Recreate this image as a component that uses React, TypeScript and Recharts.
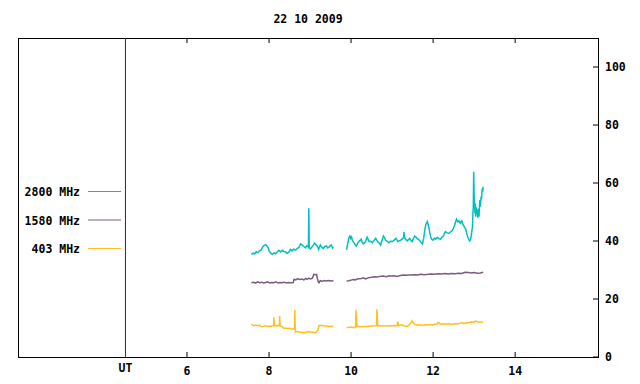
import React from "react";
import { LineChart, Line, XAxis, YAxis, ReferenceLine } from "recharts";

const FONT = "'DejaVu Sans Mono', 'Liberation Mono', monospace";

const title = "22 10 2009";
const xTicks = [4.5, 6, 8, 10, 12, 14];
const xTickLabels: Record<string, string> = { "4.5": "UT", "6": "6", "8": "8", "10": "10", "12": "12", "14": "14" };
const yTicks = [0, 20, 40, 60, 80, 100];
const seriesNames = ["2800 MHz", "1580 MHz", "403 MHz"];
const seriesColors = ["#00c0c0", "#7c5c7c", "#ffc020"];
const gapTime = 9.73;

const cyan1: [number, number][] = [
  [7.57, 35.4], [7.61, 35.8], [7.65, 35.6], [7.69, 36.3], [7.73, 36.0], [7.77, 36.7], [7.81, 36.9], [7.84, 37.8],
  [7.88, 38.5], [7.91, 38.7], [7.94, 38.5], [7.97, 37.9], [8.0, 36.7], [8.04, 35.8], [8.08, 35.4], [8.12, 35.9],
  [8.16, 35.6], [8.2, 36.3], [8.24, 36.8], [8.28, 36.2], [8.32, 36.8], [8.36, 36.4], [8.4, 36.3], [8.44, 35.7],
  [8.48, 36.1], [8.52, 37.1], [8.56, 36.6], [8.6, 37.2], [8.65, 36.9], [8.69, 37.5], [8.73, 37.8], [8.77, 39.0],
  [8.81, 38.6], [8.85, 38.1], [8.89, 37.6], [8.92, 38.3], [8.96, 37.9], [8.97, 51.3], [8.98, 37.5], [9.01, 37.3],
  [9.05, 38.0], [9.08, 38.6], [9.11, 39.3], [9.14, 38.8], [9.18, 38.2], [9.21, 37.1], [9.25, 38.6], [9.28, 38.0],
  [9.32, 37.4], [9.36, 38.1], [9.4, 38.3], [9.43, 37.6], [9.46, 37.9], [9.49, 38.4], [9.52, 38.6], [9.55, 37.6],
  [9.57, 37.9],
];
const cyan2: [number, number][] = [
  [9.89, 36.9], [9.91, 38.6], [9.93, 39.8], [9.95, 41.2], [9.97, 41.7], [9.99, 40.9], [10.01, 41.4], [10.03, 40.3],
  [10.06, 39.6], [10.09, 39.0], [10.11, 38.6], [10.13, 38.3], [10.16, 39.2], [10.19, 39.8], [10.22, 40.2], [10.25, 40.6],
  [10.27, 39.6], [10.3, 39.0], [10.33, 39.4], [10.35, 39.8], [10.37, 40.6], [10.39, 41.3], [10.42, 40.4], [10.44, 39.8],
  [10.48, 39.9], [10.52, 39.4], [10.56, 40.2], [10.6, 40.9], [10.63, 40.2], [10.65, 39.8], [10.69, 39.2], [10.72, 38.6],
  [10.75, 40.0], [10.79, 41.7], [10.82, 41.0], [10.84, 40.3], [10.88, 39.9], [10.92, 39.4], [10.96, 39.9], [11.01, 39.8],
  [11.05, 40.3], [11.09, 40.9], [11.12, 40.4], [11.14, 39.8], [11.18, 40.1], [11.21, 40.3], [11.25, 40.8], [11.28, 41.2],
  [11.29, 43.2], [11.3, 41.3], [11.33, 40.6], [11.37, 40.0], [11.4, 40.5], [11.43, 40.9], [11.46, 40.2], [11.49, 39.8],
  [11.52, 40.8], [11.55, 41.7], [11.58, 41.4], [11.61, 40.9], [11.65, 40.5], [11.68, 40.0], [11.71, 39.5], [11.74, 39.0],
  [11.77, 40.9], [11.8, 44.0], [11.82, 45.5], [11.84, 46.2], [11.86, 46.7], [11.88, 45.6], [11.9, 44.4], [11.92, 42.8],
  [11.95, 40.9], [11.98, 40.5], [12.0, 40.3], [12.03, 41.0], [12.06, 40.6], [12.1, 41.3], [12.14, 40.8], [12.18, 40.6],
  [12.21, 41.2], [12.25, 41.7], [12.27, 42.4], [12.3, 43.2], [12.34, 42.8], [12.38, 42.6], [12.42, 43.1], [12.47, 43.6],
  [12.49, 44.2], [12.51, 44.9], [12.54, 46.2], [12.57, 47.5], [12.6, 46.6], [12.63, 47.0], [12.65, 46.3], [12.67, 46.1],
  [12.69, 46.9], [12.71, 46.7], [12.73, 45.6], [12.75, 45.2], [12.77, 44.6], [12.79, 44.4], [12.81, 43.2], [12.83, 42.1],
  [12.85, 41.2], [12.87, 40.6], [12.89, 40.0], [12.91, 40.3], [12.93, 41.8], [12.95, 43.9], [12.96, 44.9], [12.97, 49.5],
  [12.98, 51.8], [12.99, 63.9], [13.0, 55.8], [13.01, 54.1], [13.02, 49.6], [13.03, 52.8], [13.04, 48.4], [13.05, 51.6],
  [13.06, 49.2], [13.08, 50.7], [13.09, 48.0], [13.1, 51.2], [13.12, 48.4], [13.13, 52.0], [13.14, 54.1], [13.15, 51.8],
  [13.17, 55.3], [13.18, 54.4], [13.19, 56.9], [13.2, 58.2], [13.21, 57.0], [13.22, 58.7],
];

const purple1: [number, number][] = [
  [7.57, 25.6], [7.62, 25.8], [7.67, 25.5], [7.72, 25.9], [7.77, 25.6], [7.82, 25.8], [7.87, 25.5], [7.92, 25.7],
  [7.97, 25.9], [8.02, 25.5], [8.07, 25.7], [8.12, 25.6], [8.17, 25.9], [8.22, 25.5], [8.27, 25.7], [8.32, 25.6],
  [8.37, 25.8], [8.42, 25.5], [8.47, 25.7], [8.52, 25.6], [8.57, 25.6], [8.59, 25.7], [8.61, 26.8], [8.65, 26.6],
  [8.7, 27.0], [8.75, 26.7], [8.8, 26.9], [8.85, 26.6], [8.9, 27.1], [8.93, 26.8], [8.97, 27.2], [9.01, 26.9],
  [9.05, 27.1], [9.07, 27.6], [9.09, 28.5], [9.13, 28.4], [9.16, 28.5], [9.18, 27.0], [9.2, 25.9], [9.22, 25.6],
  [9.25, 26.3], [9.3, 26.1], [9.35, 26.4], [9.4, 26.2], [9.45, 26.4], [9.5, 26.2], [9.57, 26.3],
];
const purple2: [number, number][] = [
  [9.89, 26.2], [9.95, 26.3], [10.0, 26.5], [10.05, 26.7], [10.1, 26.6], [10.15, 26.9], [10.2, 27.0], [10.25, 27.1],
  [10.3, 27.3], [10.35, 26.9], [10.4, 27.2], [10.45, 27.4], [10.5, 27.5], [10.57, 27.7], [10.63, 27.6], [10.7, 27.8],
  [10.78, 27.9], [10.86, 27.7], [10.93, 28.0], [10.98, 27.9], [11.05, 28.0], [11.12, 27.8], [11.2, 28.1], [11.28, 28.3],
  [11.35, 28.2], [11.39, 28.3], [11.46, 28.3], [11.55, 28.4], [11.62, 28.3], [11.7, 28.5], [11.78, 28.4], [11.88, 28.5],
  [11.95, 28.6], [12.03, 28.5], [12.12, 28.7], [12.2, 28.6], [12.28, 28.8], [12.37, 28.6], [12.45, 28.8], [12.53, 28.7],
  [12.62, 28.9], [12.7, 28.8], [12.78, 29.2], [12.86, 29.1], [12.93, 29.0], [13.0, 29.1], [13.08, 28.9], [13.15, 29.0],
  [13.22, 29.2],
];

const yellow1: [number, number][] = [
  [7.57, 11.3], [7.6, 11.0], [7.63, 10.8], [7.68, 11.0], [7.73, 10.8], [7.77, 11.0], [7.8, 10.6], [7.82, 10.5],
  [7.87, 10.6], [7.92, 10.8], [7.97, 10.5], [8.02, 10.7], [8.07, 10.6], [8.11, 10.8], [8.12, 13.7], [8.13, 10.9],
  [8.16, 10.8], [8.21, 10.9], [8.25, 10.8], [8.26, 14.1], [8.27, 10.7], [8.32, 10.5], [8.36, 9.9], [8.42, 9.9],
  [8.47, 9.8], [8.52, 9.9], [8.57, 9.6], [8.62, 9.8], [8.63, 16.2], [8.64, 8.7], [8.68, 8.8], [8.73, 8.6],
  [8.79, 8.5], [8.85, 8.4], [8.9, 8.5], [8.95, 8.7], [9.01, 8.6], [9.07, 8.5], [9.13, 8.4], [9.16, 8.8],
  [9.19, 9.3], [9.21, 10.2], [9.22, 10.9], [9.26, 10.9], [9.3, 10.9], [9.35, 10.8], [9.4, 10.7], [9.46, 10.5],
  [9.52, 10.6], [9.57, 10.5],
];
const yellow2: [number, number][] = [
  [9.89, 10.2], [9.95, 10.2], [10.0, 10.3], [10.05, 10.2], [10.11, 10.2], [10.12, 16.2], [10.13, 13.0], [10.15, 10.5],
  [10.2, 10.5], [10.25, 10.4], [10.31, 10.5], [10.38, 10.5], [10.45, 10.6], [10.52, 10.7], [10.6, 10.8], [10.62, 10.9],
  [10.63, 16.5], [10.65, 10.8], [10.72, 10.8], [10.8, 10.7], [10.88, 10.8], [10.96, 10.8], [11.04, 10.9], [11.12, 10.8],
  [11.14, 12.2], [11.16, 10.8], [11.2, 11.0], [11.25, 11.0], [11.3, 10.7], [11.37, 10.5], [11.41, 11.0], [11.45, 11.6],
  [11.47, 12.0], [11.49, 12.5], [11.51, 11.9], [11.53, 11.6], [11.57, 11.2], [11.61, 11.0], [11.67, 11.1], [11.74, 10.9],
  [11.8, 11.1], [11.86, 11.0], [11.92, 11.2], [11.98, 11.0], [12.04, 11.3], [12.1, 11.4], [12.12, 11.9], [12.14, 11.8],
  [12.18, 11.3], [12.24, 11.5], [12.3, 11.3], [12.34, 11.4], [12.4, 11.5], [12.47, 11.3], [12.53, 11.5], [12.59, 11.4],
  [12.65, 11.6], [12.71, 11.9], [12.75, 11.5], [12.79, 11.7], [12.83, 11.8], [12.88, 11.9], [12.93, 12.1], [12.99, 12.0],
  [13.03, 12.4], [13.08, 12.2], [13.12, 12.0], [13.17, 12.1], [13.22, 11.8],
];

type Pt = { t: number; v: number | null };
const build = (a: [number, number][], b: [number, number][]): Pt[] => [
  ...a.map(([t, v]) => ({ t, v })),
  { t: gapTime, v: null },
  ...b.map(([t, v]) => ({ t, v })),
];
const seriesData = [build(cyan1, cyan2), build(purple1, purple2), build(yellow1, yellow2)];

const txt = { fontFamily: FONT, fontWeight: 700, fontSize: 11.5, fill: "#000" } as const;

const PLOT_TOP = 38;
const PLOT_BOTTOM = 357;
const PLOT_LEFT = 18;
const PLOT_RIGHT = 598;

const BottomTick = (p: any) => {
  const v = p.payload.value;
  const isUT = Math.abs(v - 4.5) < 1e-6;
  const x = p.x;
  return (
    <g>
      {!isUT && <path d={`M${x},${PLOT_BOTTOM}V${PLOT_BOTTOM - 5}`} stroke="#000" strokeWidth={1} fill="none" />}
      {!isUT && <path d={`M${x},${PLOT_TOP}V${PLOT_TOP + 5}`} stroke="#000" strokeWidth={1} fill="none" />}
      <text x={x} y={isUT ? 372 : 375} textAnchor="middle" style={txt}>
        {xTickLabels[String(v)]}
      </text>
    </g>
  );
};
const RightTick = (p: any) => (
  <g>
    <path d={`M${PLOT_RIGHT},${p.y}H${PLOT_RIGHT - 5}`} stroke="#000" strokeWidth={1} fill="none" />
    <text x={605} y={p.y + 4} textAnchor="start" style={txt}>
      {p.payload.value}
    </text>
  </g>
);

export default function App() {
  return (
    <div style={{ position: "absolute", left: 0, top: 0, width: 640, height: 384, background: "#fff" }}>
      <LineChart width={640} height={384} margin={{ top: PLOT_TOP, right: 0, bottom: 0, left: PLOT_LEFT }}>
        <XAxis
          xAxisId="b"
          dataKey="t"
          type="number"
          domain={[1.88, 16.02]}
          allowDataOverflow
          ticks={xTicks}
          interval={0}
          height={27}
          tickSize={0}
          tickMargin={0}
          tickLine={false}
          axisLine={false}
          tick={<BottomTick />}
        />
        <YAxis
          yAxisId="r"
          orientation="right"
          type="number"
          domain={[0, 110]}
          allowDataOverflow
          ticks={yTicks}
          interval={0}
          width={42}
          tickSize={0}
          tickMargin={0}
          tickLine={false}
          axisLine={false}
          tick={<RightTick />}
        />
        <rect
          x={PLOT_LEFT + 0.5}
          y={PLOT_TOP + 0.5}
          width={PLOT_RIGHT - PLOT_LEFT}
          height={PLOT_BOTTOM - PLOT_TOP}
          fill="none"
          stroke="#000"
          strokeWidth={1}
        />
        <ReferenceLine x={4.5} xAxisId="b" yAxisId="r" stroke="#990000" strokeWidth={1} />
        {seriesData.map((d, i) => (
          <Line
            key={seriesNames[i]}
            data={d}
            xAxisId="b"
            yAxisId="r"
            dataKey="v"
            name={seriesNames[i]}
            type="linear"
            stroke={seriesColors[i]}
            strokeWidth={1.5}
            dot={false}
            activeDot={false}
            connectNulls={false}
            isAnimationActive={false}
          />
        ))}
        <text x={308} y={23} textAnchor="middle" style={txt}>
          {title}
        </text>
        {seriesNames.map((n, i) => (
          <g key={n}>
            <text x={80} y={196 + i * 28.5} textAnchor="end" style={txt}>
              {n}
            </text>
            <line x1={88} x2={121} y1={191.5 + i * 28.5} y2={191.5 + i * 28.5} stroke={seriesColors[i]} />
          </g>
        ))}
      </LineChart>
    </div>
  );
}
